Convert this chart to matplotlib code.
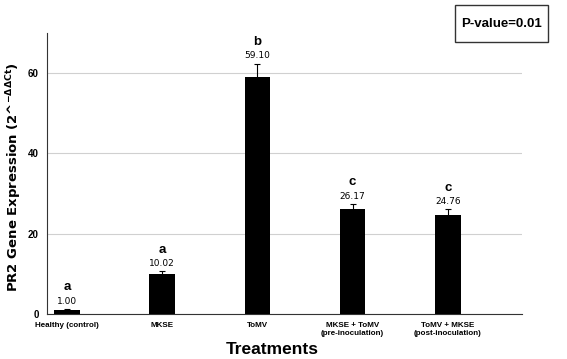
import numpy as np
import matplotlib.pyplot as plt
from matplotlib.patches import Rectangle

treatments = ["Healthy (control)", "MKSE", "ToMV",
              "MKSE + ToMV\n(pre-inoculation)", "ToMV + MKSE\n(post-inoculation)"]
expression = [1.00, 10.02, 59.10, 26.17, 24.76]
errors = [0.25, 0.6, 3.3, 1.3, 1.3]
letters = ["a", "a", "b", "c", "c"]

plt.rcParams["font.family"] = ["Liberation Sans", "DejaVu Sans"]

fig = plt.figure(figsize=(5.67, 3.59), dpi=100)
ax = fig.add_axes([47 / 567, 1 - 314 / 359, (522 - 47) / 567, (314 - 33) / 359])

x = np.arange(len(treatments))
ax.bar(x, expression, width=0.27, color="black", yerr=errors,
       error_kw=dict(ecolor="black", elinewidth=0.8, capsize=2, capthick=0.8), zorder=3)

for xi, v, e, l in zip(x, expression, errors, letters):
    ax.text(xi, v + e + 0.8, f"{v:.2f}", ha="center", va="bottom", fontsize=6.5,
            family="DejaVu Sans")
    ax.text(xi, v + e + 3.9, l, ha="center", va="bottom", fontsize=9.5, fontweight="bold")

ax.set_xlim(-0.21, 4.78)
ax.set_ylim(0, 70)
ax.set_yticks([0, 20, 40, 60])
ax.yaxis.grid(True, color="#d0d0d0", linewidth=0.8, zorder=0)
ax.set_axisbelow(True)
ax.set_xticks(x)
ax.set_xticklabels(treatments, fontsize=5.8, fontweight="bold")
ax.tick_params(axis="both", length=0, pad=6)
for lab in ax.get_yticklabels():
    lab.set_fontsize(7)
    lab.set_fontweight("bold")
for s in ["top", "right"]:
    ax.spines[s].set_visible(False)
ax.spines["left"].set_color("#333333")
ax.spines["bottom"].set_color("#333333")

fig.text(272 / 567, 1 - 349 / 359, "Treatments", ha="center", va="center",
         fontsize=12.5, fontweight="bold")
fig.text(14 / 567, 1 - 177 / 359, r"PR2 Gene Expression (2^$^{\mathbf{-\Delta\Delta Ct}}$)",
         ha="center", va="center", rotation=90, fontsize=9.5, fontweight="bold",
         family="DejaVu Sans")

fig.patches.append(Rectangle((455 / 567, 1 - 42 / 359), 93 / 567, 37 / 359,
                             transform=fig.transFigure, facecolor="white",
                             edgecolor="#333333", linewidth=1))
fig.text(502 / 567, 1 - 24 / 359, "P-value=0.01", ha="center", va="center",
         fontsize=9.5, fontweight="bold")

fig.savefig("out.png", dpi=100)
